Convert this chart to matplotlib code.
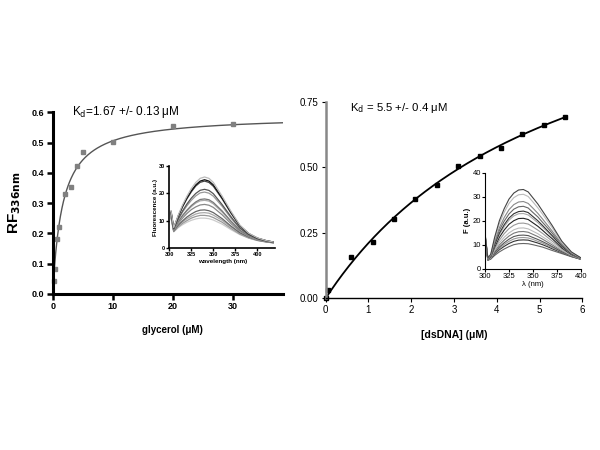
import numpy as np
import matplotlib
matplotlib.use("Agg")
import matplotlib.pyplot as plt

plt.rcParams['font.family'] = ['Liberation Sans', 'DejaVu Sans']

# ---- left panel: glycerol titration ----
gly_conc = [0.28, 0.44, 0.67, 1.06, 2.0, 3.0, 4.0, 5.0, 10.0, 20.0, 30.0]
gly_rf = [0.043, 0.083, 0.182, 0.221, 0.330, 0.352, 0.423, 0.469, 0.503, 0.554, 0.560]
gly_kd = 1.67
gly_bmax = 0.59

# left inset spectra (wavelength nm, fluorescence a.u.)
gly_wl = [302, 305, 310, 315, 320, 325, 330, 335, 340, 345, 350, 360, 370, 380,
          390, 400, 410, 418]
gly_spectra = [
    [13.5, 7.5, 12.0, 15.8, 19.0, 21.8, 24.0, 25.5, 26.0, 25.5, 24.0, 19.0, 13.5, 8.5, 5.5, 3.8, 2.8, 2.3],
    [13.5, 7.4, 11.7, 15.3, 18.4, 21.0, 23.1, 24.5, 25.0, 24.5, 23.1, 18.3, 13.1, 8.3, 5.4, 3.7, 2.8, 2.3],
    [13.0, 7.35, 11.55, 15.1, 18.05, 20.6, 22.7, 24.05, 24.5, 24.0, 22.6, 18.0, 12.8, 8.15, 5.3, 3.7, 2.75, 2.3],
    [13.0, 7.05, 10.65, 13.6, 16.15, 18.3, 20.0, 21.15, 21.5, 21.1, 19.9, 15.9, 11.5, 7.45, 5.0, 3.5, 2.65, 2.2],
    [12.5, 6.95, 10.35, 13.2, 15.5, 17.5, 19.1, 20.2, 20.5, 20.1, 19.0, 15.3, 11.0, 7.2, 4.85, 3.45, 2.6, 2.2],
    [12.5, 6.7, 9.6, 12.0, 13.9, 15.6, 16.9, 17.8, 18.0, 17.7, 16.7, 13.6, 9.9, 6.6, 4.55, 3.3, 2.55, 2.15],
    [12.0, 6.65, 9.45, 11.7, 13.6, 15.2, 16.5, 17.3, 17.5, 17.2, 16.2, 13.2, 9.7, 6.5, 4.5, 3.2, 2.5, 2.1],
    [12.0, 6.5, 9.0, 11.0, 12.7, 14.1, 15.1, 15.8, 16.0, 15.7, 14.9, 12.2, 9.0, 6.2, 4.3, 3.1, 2.5, 2.1],
    [11.5, 6.3, 8.4, 10.0, 11.4, 12.5, 13.4, 13.9, 14.0, 13.7, 13.0, 10.8, 8.1, 5.7, 4.1, 3.0, 2.4, 2.05],
    [11.5, 6.2, 8.1, 9.6, 10.8, 11.7, 12.5, 12.9, 13.0, 12.8, 12.1, 10.2, 7.7, 5.5, 3.9, 2.9, 2.4, 2.05],
    [11.0, 6.1, 7.8, 9.1, 10.1, 11.0, 11.6, 12.0, 12.0, 11.8, 11.2, 9.5, 7.25, 5.2, 3.8, 2.9, 2.3, 2.0],
    [11.0, 6.0, 7.5, 8.6, 9.5, 10.2, 10.7, 11.0, 11.0, 10.8, 10.3, 8.8, 6.8, 5.0, 3.7, 2.8, 2.3, 2.0],
]
gly_colors = ['#bbbbbb', '#111111', '#444444', '#555555', '#999999', '#777777',
              '#aaaaaa', '#888888', '#666666', '#aaaaaa', '#999999', '#cccccc']

# ---- right panel: dsDNA titration ----
dna_conc = [0.0, 0.055, 0.6, 1.1, 1.6, 2.1, 2.6, 3.1, 3.6, 4.1, 4.6, 5.1, 5.6]
dna_signal = [0.0, 0.032, 0.159, 0.216, 0.304, 0.380, 0.431, 0.503, 0.543,
              0.574, 0.625, 0.663, 0.690]
dna_kd = 5.5
dna_bmax = 1.37

dna_wl = [300, 303, 306, 310, 315, 320, 325, 330, 335, 340, 345, 350, 355, 360,
          365, 370, 380, 390, 400]
dna_spectra = [
    [15.0, 4.5, 6.0, 13.0, 20.0, 25.0, 29.0, 31.5, 32.8, 33.0, 32.0, 29.5, 27.0, 24.0, 21.0, 18.0, 11.5, 7.0, 4.5],
    [14.8, 4.4, 5.8, 12.3, 18.8, 23.5, 27.2, 29.6, 30.8, 31.0, 30.1, 27.8, 25.4, 22.7, 19.9, 17.1, 11.0, 6.8, 4.45],
    [14.6, 4.3, 5.6, 11.3, 17.1, 21.3, 24.6, 26.7, 27.8, 28.0, 27.2, 25.2, 23.1, 20.7, 18.2, 15.7, 10.4, 6.6, 4.4],
    [14.4, 4.2, 5.4, 10.7, 16.0, 19.8, 22.8, 24.8, 25.8, 26.0, 25.3, 23.4, 21.6, 19.3, 17.1, 14.8, 9.9, 6.4, 4.3],
    [14.2, 4.1, 5.2, 10.0, 14.8, 18.3, 21.1, 22.9, 23.8, 24.0, 23.4, 21.7, 20.0, 18.0, 15.9, 13.8, 9.4, 6.2, 4.3],
    [14.1, 4.1, 5.1, 9.7, 14.2, 17.5, 20.2, 22.0, 22.9, 23.0, 22.4, 20.8, 19.2, 17.3, 15.4, 13.4, 9.2, 6.1, 4.2],
    [13.9, 4.0, 4.9, 9.0, 13.1, 16.1, 18.5, 20.0, 20.9, 21.0, 20.5, 19.1, 17.7, 16.0, 14.2, 12.5, 8.7, 5.9, 4.2],
    [13.8, 3.9, 4.8, 8.3, 11.9, 14.6, 16.7, 18.1, 18.9, 19.0, 18.6, 17.4, 16.1, 14.7, 13.1, 11.5, 8.3, 5.8, 4.1],
    [13.6, 3.8, 4.6, 7.7, 10.8, 13.1, 14.9, 16.2, 16.9, 17.0, 16.6, 15.6, 14.6, 13.3, 12.0, 10.6, 7.8, 5.6, 4.1],
    [13.4, 3.7, 4.4, 7.2, 9.9, 11.9, 13.6, 14.8, 15.4, 15.5, 15.2, 14.3, 13.4, 12.3, 11.1, 9.9, 7.5, 5.4, 4.0],
    [13.3, 3.7, 4.3, 6.7, 9.0, 10.8, 12.3, 13.4, 13.9, 14.0, 13.8, 13.0, 12.2, 11.3, 10.3, 9.2, 7.1, 5.3, 4.0],
    [13.2, 3.6, 4.2, 6.3, 8.4, 10.1, 11.4, 12.4, 12.9, 13.0, 12.8, 12.2, 11.4, 10.7, 9.7, 8.8, 6.9, 5.2, 4.0],
    [13.1, 3.6, 4.1, 6.0, 7.9, 9.3, 10.5, 11.4, 11.9, 12.0, 11.9, 11.3, 10.7, 10.0, 9.2, 8.3, 6.7, 5.1, 3.9],
    [13.0, 3.5, 4.0, 5.5, 7.0, 8.2, 9.2, 10.0, 10.4, 10.5, 10.4, 10.0, 9.5, 9.0, 8.3, 7.6, 6.3, 5.0, 3.9],
]
dna_colors = ['#444444', '#bbbbbb', '#888888', '#666666', '#333333', '#aaaaaa',
              '#222222', '#999999', '#bbbbbb', '#777777', '#555555', '#999999',
              '#333333', '#666666']

fig = plt.figure(figsize=(6, 4.5), dpi=100)

# left main axes
ax1 = fig.add_axes([0.0878, 0.3467, 0.3843, 0.4038])
xfit = np.linspace(0, 38.4, 300)
ax1.plot(xfit, gly_bmax * xfit / (gly_kd + xfit), color='#555555', lw=1.0)
ax1.plot(gly_conc, gly_rf, 's', color='#808080', ms=3.5, clip_on=False)
ax1.set_xlim(0, 38.4)
ax1.set_ylim(0, 0.6)
ax1.set_xticks([0, 10, 20, 30])
ax1.set_yticks([0.0, 0.1, 0.2, 0.3, 0.4, 0.5, 0.6])
ax1.set_yticklabels(['0.0', '0.1', '0.2', '0.3', '0.4', '0.5', '0.6'])
for s in ['top', 'right']:
    ax1.spines[s].set_visible(False)
for s in ['left', 'bottom']:
    ax1.spines[s].set_linewidth(2.2)
ax1.tick_params(width=1.8, length=4, labelsize=6.5, pad=2)
for lab in ax1.get_xticklabels() + ax1.get_yticklabels():
    lab.set_fontweight('bold')
ax1.set_xlabel('glycerol (μM)', fontsize=7, fontweight='bold')
ax1.xaxis.set_label_coords(0.52, -0.17)
ax1.set_ylabel('RF$_{\\mathbf{336nm}}$', fontsize=11, fontweight='bold')
ax1.yaxis.set_label_coords(-0.13, 0.5)
fig.text(72 / 600, 1 - 112 / 450, 'K$_\\mathrm{d}$=1.67 +/- 0.13 μM', fontsize=8.5,
         va='center', ha='left')

# left inset
in1 = fig.add_axes([0.2822, 0.4482, 0.1762, 0.1829])
for spec, c in zip(gly_spectra[::-1], gly_colors[::-1]):
    in1.plot(gly_wl, spec, color=c, lw=0.9)
in1.set_xlim(300, 420)
in1.set_ylim(0, 30)
in1.set_xticks([300, 325, 350, 375, 400])
in1.set_yticks([0, 10, 20, 30])
for s in ['top', 'right']:
    in1.spines[s].set_visible(False)
for s in ['left', 'bottom']:
    in1.spines[s].set_linewidth(1.2)
in1.tick_params(width=1, length=2, labelsize=4, pad=1)
for lab in in1.get_xticklabels() + in1.get_yticklabels():
    lab.set_fontweight('bold')
in1.set_xlabel('wavelength (nm)', fontsize=4.5, fontweight='bold', labelpad=1)
in1.set_ylabel('Fluorescence (a.u.)', fontsize=4.5, fontweight='bold', labelpad=1)

# right main axes
ax2 = fig.add_axes([0.5428, 0.3371, 0.4277, 0.4369])
xfit2 = np.linspace(0, 5.6, 300)
ax2.plot(xfit2, dna_bmax * xfit2 / (dna_kd + xfit2), color='black', lw=1.3)
ax2.plot(dna_conc, dna_signal, 's', color='black', ms=3.5, clip_on=False)
ax2.set_xlim(0, 6)
ax2.set_ylim(0, 0.75)
ax2.set_xticks([0, 1, 2, 3, 4, 5, 6])
ax2.set_yticks([0.0, 0.25, 0.5, 0.75])
ax2.set_yticklabels(['0.00', '0.25', '0.50', '0.75'])
for s in ['top', 'right']:
    ax2.spines[s].set_visible(False)
ax2.spines['left'].set_color('#888888')
ax2.spines['left'].set_linewidth(1.8)
ax2.spines['bottom'].set_linewidth(1.0)
ax2.tick_params(width=0.8, length=3, labelsize=7, pad=2)
ax2.set_xlabel('[dsDNA] (μM)', fontsize=7.5, fontweight='bold')
ax2.xaxis.set_label_coords(0.5, -0.16)
fig.text(350 / 600, 1 - 108 / 450, 'K$_\\mathrm{d}$ = 5.5 +/- 0.4 μM', fontsize=8.2,
         va='center', ha='left')

# right inset
in2 = fig.add_axes([0.8083, 0.4029, 0.16, 0.2133])
for spec, c in zip(dna_spectra[::-1], dna_colors[::-1]):
    in2.plot(dna_wl, spec, color=c, lw=0.8)
in2.set_xlim(300, 400)
in2.set_ylim(0, 40)
in2.set_xticks([300, 325, 350, 375, 400])
in2.set_yticks([0, 10, 20, 30, 40])
for s in ['top', 'right']:
    in2.spines[s].set_visible(False)
in2.tick_params(width=0.8, length=2, labelsize=5.5, pad=1)
in2.set_xlabel('λ (nm)', fontsize=5.5, labelpad=1)
in2.set_ylabel('F (a.u.)', fontsize=5.5, fontweight='bold', labelpad=1)

fig.savefig('out.png', dpi=100)
